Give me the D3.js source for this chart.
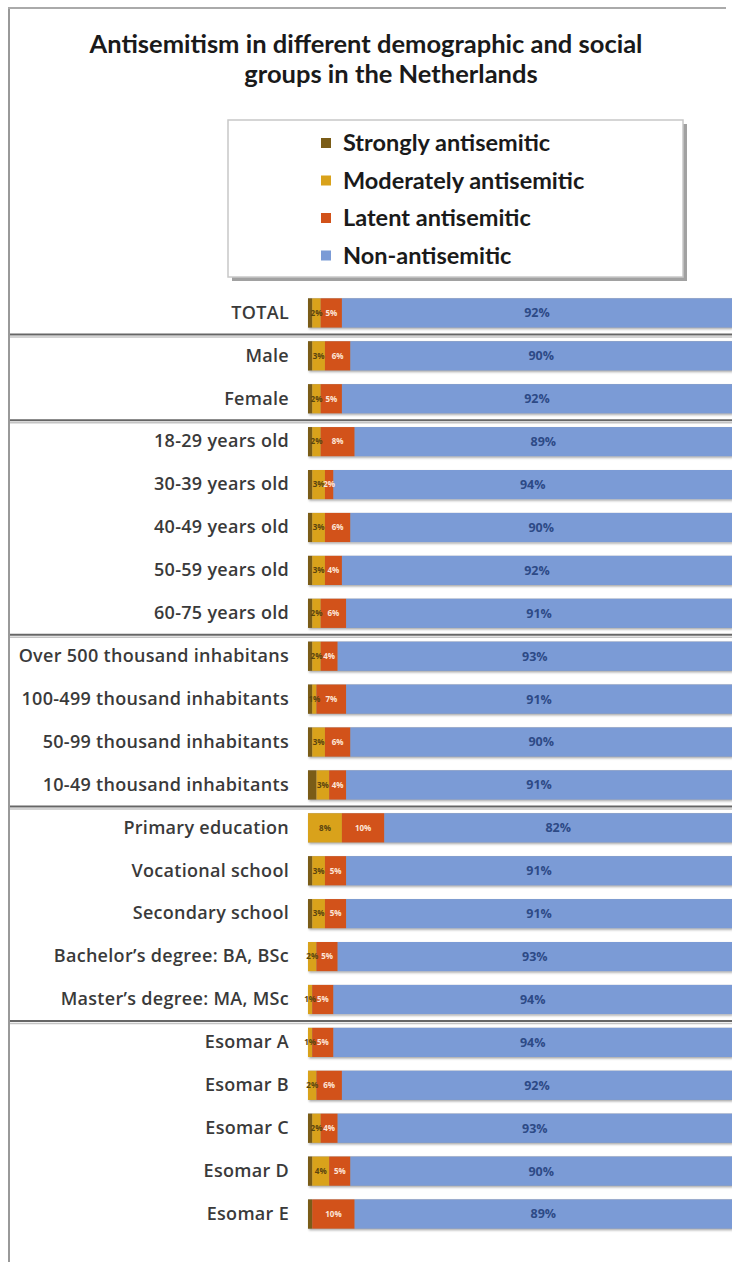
<!DOCTYPE html>
<html>
<head>
<meta charset="utf-8">
<script src="https://cdn.jsdelivr.net/npm/d3@7"></script>
<style>
  html, body { margin: 0; padding: 0; background: #fff; }
  svg { display: block; }
</style>
</head>
<body>
<div id="chart"></div>
<script>
const categories = [
  "TOTAL", "Male", "Female",
  "18-29 years old", "30-39 years old", "40-49 years old", "50-59 years old", "60-75 years old",
  "Over 500 thousand inhabitans", "100-499 thousand inhabitants", "50-99 thousand inhabitants", "10-49 thousand inhabitants",
  "Primary education", "Vocational school", "Secondary school", "Bachelor\u2019s degree: BA, BSc", "Master\u2019s degree: MA, MSc",
  "Esomar A", "Esomar B", "Esomar C", "Esomar D", "Esomar E"
];
const seriesNames = ["Strongly antisemitic", "Moderately antisemitic", "Latent antisemitic", "Non-antisemitic"];
const strongly = [1,1,1,1,1,1,1,1,1,1,1,2,0,1,1,0,0,0,0,1,1,1];
const moderate = [2,3,2,2,3,3,3,2,2,1,3,3,8,3,3,2,1,1,2,2,4,0];
const latent   = [5,6,5,8,2,6,4,6,4,7,6,4,10,5,5,5,5,5,6,4,5,10];
const nonAnti  = [92,90,92,89,94,90,92,91,93,91,90,91,82,91,91,93,94,94,92,93,90,89];
const groupEnds = [0, 2, 7, 11, 16]; // separator after these rows
const colors = ["#7a5c17", "#d9a21b", "#d2521a", "#7b9bd6"];

const W = 732, H = 1262;
const svg = d3.select("#chart").append("svg").attr("width", W).attr("height", H);

const defs = svg.append("defs");
const f = defs.append("filter").attr("id", "sh").attr("x", "-5%").attr("y", "-20%").attr("width", "110%").attr("height", "160%");
f.append("feDropShadow").attr("dx", 1).attr("dy", 1.5).attr("stdDeviation", 1).attr("flood-color", "#000").attr("flood-opacity", 0.35);

// frame
svg.append("line").attr("x1", 9).attr("x2", 9).attr("y1", 8).attr("y2", H).attr("stroke", "#999").attr("stroke-width", 2);
svg.append("line").attr("x1", 8).attr("x2", 726).attr("y1", 8).attr("y2", 8).attr("stroke", "#aaa").attr("stroke-width", 2);

// title
const titleFont = "Lato, 'Open Sans', sans-serif";
const title = svg.append("text").attr("text-anchor", "middle").attr("font-family", titleFont)
  .attr("font-weight", 700).attr("font-size", 25.5).attr("fill", "#1a1a1a");
title.append("tspan").attr("x", 366).attr("y", 53).text("Antisemitism in different demographic and social");
title.append("tspan").attr("x", 391).attr("y", 83).text("groups in the Netherlands");

// legend
const lg = svg.append("g");
lg.append("rect").attr("x", 232).attr("y", 124).attr("width", 455).attr("height", 157).attr("fill", "#8a8a8a").attr("opacity", 0.8);
lg.append("rect").attr("x", 228).attr("y", 120).attr("width", 455).attr("height", 157).attr("fill", "#fff").attr("stroke", "#c8c8c8").attr("stroke-width", 1.5);
seriesNames.forEach((s, i) => {
  const y = 143 + i * 37.5;
  lg.append("rect").attr("x", 321).attr("y", y - 5).attr("width", 10).attr("height", 10).attr("fill", colors[i]);
  lg.append("text").attr("x", 343).attr("y", y + 8).attr("font-family", titleFont).attr("font-weight", 700)
    .attr("font-size", 23.5).attr("fill", "#1a1a1a").text(s);
});

// scales
const x = d3.scaleLinear().domain([0, 100]).range([308, 732]);
const y = d3.scaleBand().domain(categories).range([291.5, 1235.5]).paddingInner(0.32).paddingOuter(0.16);

const rows = categories.map((c, i) => {
  const vals = [strongly[i], moderate[i], latent[i], nonAnti[i]];
  let acc = 0;
  return { cat: c, segs: vals.map((v, k) => { const s = { k, v, x0: acc, x1: acc + v }; acc += v; return s; }) };
});

// separators
groupEnds.forEach(i => {
  const yy = y(categories[i]) + y.bandwidth() + (y.step() - y.bandwidth()) / 2;
  svg.append("line").attr("x1", 10).attr("x2", W).attr("y1", yy).attr("y2", yy).attr("stroke", "#666").attr("stroke-width", 2);
  svg.append("line").attr("x1", 10).attr("x2", W).attr("y1", yy + 2.5).attr("y2", yy + 2.5).attr("stroke", "#c4c4c4").attr("stroke-width", 1.5);
});

// category labels (axis)
const yAxis = d3.axisLeft(y).tickSize(0).tickPadding(0);
const ag = svg.append("g").attr("transform", "translate(289,0)").call(yAxis);
ag.select(".domain").remove();
ag.selectAll("text").attr("font-family", "'Open Sans', sans-serif").attr("font-weight", 600)
  .attr("font-size", 18).attr("letter-spacing", 0.3).attr("fill", "#3a3a3a");

// bars
const bars = svg.append("g").selectAll("g").data(rows).join("g")
  .attr("transform", d => `translate(0,${y(d.cat)})`);
bars.append("rect").attr("x", x(0)).attr("width", x(100) - x(0)).attr("height", y.bandwidth())
  .attr("fill", "#999").attr("filter", "url(#sh)");
bars.selectAll("rect.seg").data(d => d.segs.filter(s => s.v > 0)).join("rect").attr("class", "seg")
  .attr("x", s => x(s.x0)).attr("width", s => x(s.x1) - x(s.x0)).attr("height", y.bandwidth())
  .attr("fill", s => colors[s.k]);

// segment labels
bars.selectAll("text.lab").data(d => d.segs.filter(s => s.v > 0 && s.k > 0)).join("text").attr("class", "lab")
  .attr("x", s => (x(s.x0) + x(s.x1)) / 2)
  .attr("y", y.bandwidth() / 2)
  .attr("dy", "0.35em")
  .attr("text-anchor", "middle")
  .attr("font-family", "'Open Sans', sans-serif")
  .attr("font-weight", 700)
  .attr("font-size", s => s.k === 3 ? 12.5 : 8)
  .attr("fill", s => s.k === 3 ? "#2d4a86" : (s.k === 2 ? "#fde6d8" : "#5a4410"))
  .text(s => s.v + "%");
</script>
</body>
</html>
